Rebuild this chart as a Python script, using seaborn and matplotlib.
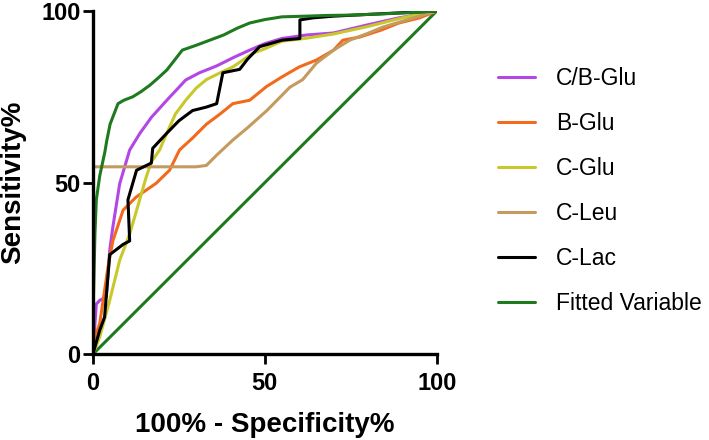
import numpy as np
import pandas as pd
import matplotlib
matplotlib.use("Agg")
import matplotlib.pyplot as plt
import seaborn as sns

# ROC curves (x = 100% - specificity, y = sensitivity)
cb_glu_x = [0, 1, 2, 3.9, 4.9, 5.8, 7.8, 10.7, 13.7, 17, 21.5, 27, 31, 36, 41, 45.6, 50, 55, 62, 70, 79.6, 89, 95, 100]
cb_glu_y = [0, 14.6, 15.7, 16.7, 30.3, 37, 49.7, 59.5, 64.4, 69, 74, 79.9, 82, 84, 86.5, 88.6, 90.5, 92, 93, 93.6, 95.9, 98, 99, 100]

b_glu_x = [0, 1, 2, 4.4, 5.8, 8.8, 12.6, 18.4, 22.3, 25.2, 29, 33, 37, 40.7, 45.6, 50.5, 55, 60, 65, 70, 72.7, 77.6, 84, 89, 95, 100]
b_glu_y = [0, 6, 9, 25.4, 33, 42, 45.8, 49.8, 53.6, 59.5, 63, 67, 70, 73, 74, 78, 80.8, 83.7, 85.7, 88.6, 91.5, 92.4, 94.5, 96.5, 98, 100]

c_glu_x = [0, 2, 4.9, 7.8, 10.7, 13.6, 15.5, 17, 19.4, 21.5, 24, 27, 30, 33, 37, 40.7, 46.5, 50, 55, 61.6, 70, 80, 90, 100]
c_glu_y = [0, 5, 15.7, 27.4, 35, 45, 51.6, 56, 59.5, 64.4, 70, 74, 77.5, 80, 82, 83.7, 87.7, 89, 91.2, 92, 93.3, 95.5, 98, 100]

c_leu_x = [0, 0, 10, 20, 30, 33, 36, 40.7, 45, 50.6, 57.3, 61, 65, 70, 74.7, 80, 84.3, 90, 95, 100]
c_leu_y = [0, 54.6, 54.6, 54.6, 54.6, 55, 58, 62.4, 66, 71, 77.8, 80, 84.8, 88.6, 91.5, 93.5, 95.3, 97, 98.5, 100]

c_lac_x = [0, 2, 3.4, 4.9, 8.8, 10.7, 10.2, 12.7, 17, 17.4, 21.5, 25, 29, 33, 36, 37.8, 42.7, 45, 48.5, 55, 60.2, 60.2, 64, 70, 80, 90, 100]
c_lac_y = [0, 7, 10.8, 29, 32, 33, 45, 53.6, 55.7, 60, 64.4, 68, 71, 72, 73, 82, 83, 86, 89.6, 91.5, 92, 97.4, 98, 98.5, 99, 99.5, 100]

fitted_x = [0, 0, 0.6, 1, 2, 3.5, 4, 5, 7.3, 9, 11.6, 14, 16.6, 19, 21.5, 24, 26, 30, 34, 38, 42, 45.6, 50, 55, 62, 68, 74.7, 85, 92, 100]
fitted_y = [0, 10, 35, 45, 52, 59, 62, 67, 73, 74, 75, 76.5, 78.4, 80.5, 82.8, 86, 88.6, 90, 91.5, 93, 95, 96.5, 97.5, 98.3, 98.5, 98.7, 98.8, 99.2, 99.5, 100]

ref_x = [0, 100]
ref_y = [0, 100]

series = [
    ("C/B-Glu", cb_glu_x, cb_glu_y, "#b347e6"),
    ("B-Glu", b_glu_x, b_glu_y, "#f26a1b"),
    ("C-Glu", c_glu_x, c_glu_y, "#c8c82a"),
    ("C-Leu", c_leu_x, c_leu_y, "#c49a5e"),
    ("C-Lac", c_lac_x, c_lac_y, "#000000"),
    ("Fitted Variable", fitted_x, fitted_y, "#1f7a1f"),
]

sns.set_style("ticks")
plt.rcParams["font.family"] = ["Liberation Sans", "DejaVu Sans"]
plt.rcParams["text.color"] = "black"
plt.rcParams["axes.labelcolor"] = "black"

fig = plt.figure(figsize=(7.09, 4.40), dpi=100)
ax = fig.add_axes([0.131, 0.195, 0.485, 0.78])

# chance line
sns.lineplot(x=ref_x, y=ref_y, ax=ax, color="#1f7a1f", linewidth=2.2,
             sort=False, estimator=None, legend=False)

for name, xs, ys, col in series:
    df = pd.DataFrame({"x": xs, "y": ys})
    sns.lineplot(data=df, x="x", y="y", ax=ax, color=col, linewidth=2.2,
                 sort=False, estimator=None, label=name)

ax.set_xlim(0, 100)
ax.set_ylim(0, 100)
ax.set_xticks([0, 50, 100])
ax.set_yticks([0, 50, 100])
ax.set_xlabel("100% - Specificity%", fontsize=20, fontweight="bold", labelpad=12)
ax.set_ylabel("Sensitivity%", fontsize=20, fontweight="bold")
ax.yaxis.set_label_coords(-0.195, 0.5)
for lab in ax.get_xticklabels() + ax.get_yticklabels():
    lab.set_fontweight("bold")
ax.tick_params(labelsize=17, width=2, length=7, pad=2, colors="black")
ax.tick_params(axis="x", pad=6)
sns.despine(ax=ax)
for s in ["left", "bottom"]:
    ax.spines[s].set_linewidth(2.4)
    ax.spines[s].set_color("black")
    ax.spines[s].set_clip_on(False)

handles, labels = ax.get_legend_handles_labels()
ax.get_legend().remove()
fig.legend(handles, labels, loc="upper left", bbox_to_anchor=(0.674, 0.895),
           frameon=False, fontsize=16.5, handlelength=1.6, handletextpad=0.9,
           labelspacing=0.96)

fig.savefig("out.png", dpi=100)
